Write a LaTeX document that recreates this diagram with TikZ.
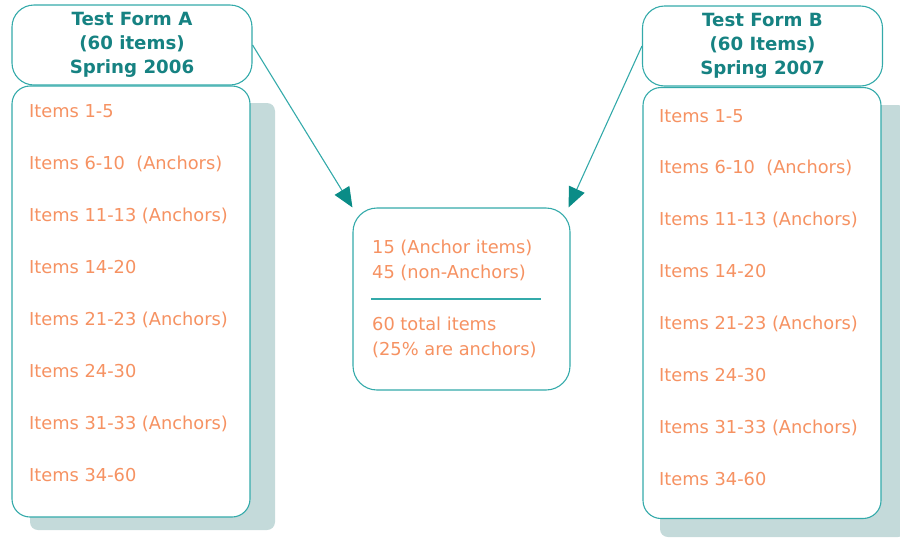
\documentclass[tikz,border=0pt]{standalone}
\usepackage{fontspec}
\setmainfont{DejaVu Sans}
\usetikzlibrary{arrows.meta}

\definecolor{frame}{RGB}{52,170,170}
\definecolor{tipfill}{RGB}{10,140,135}
\definecolor{headtext}{RGB}{22,130,130}
\definecolor{itemtext}{RGB}{246,146,98}
\definecolor{shade}{RGB}{196,218,218}

\tikzset{
  boxline/.style={draw=frame, line width=1.1pt, fill=white, inner sep=0pt},
  headbox/.style={boxline, rounded corners=22pt, minimum width=240pt, minimum height=80pt,
    align=center, text=headtext, font=\fontsize{18.2}{24}\selectfont\bfseries},
  bodybox/.style={boxline, rounded corners=18pt, minimum width=238pt, minimum height=431pt},
  sumbox/.style={boxline, rounded corners=24pt, minimum width=217pt, minimum height=182pt},
  itemlabel/.style={anchor=base west, inner sep=0pt, text=itemtext, font=\fontsize{17.8}{20}\selectfont},
  shadefill/.style={fill=shade, rounded corners=8pt},
  link/.style={draw=frame, line width=1.1pt,
    -{Triangle[length=20pt,width=17pt,color=tipfill,fill=tipfill]}},
}

\begin{document}
\begin{tikzpicture}[x=1pt, y=-1pt]
\useasboundingbox (0,0) rectangle (900,539);

% drop shadows behind the two item lists
\fill[shadefill] (30,103) rectangle (275,530);
\fill[shadefill] (660,105) rectangle (906,537);

% ---- Form A ----
\node[bodybox] (bodyA) at (131,301.5) {};
\node[headbox] (headA) at (132,45) {Test Form A\\(60 items)\\Spring 2006};

\foreach \t [count=\i from 0] in {Items 1-5, Items 6-10\ \ (Anchors), Items 11-13 (Anchors), Items 14-20,
    Items 21-23 (Anchors), Items 24-30, Items 31-33 (Anchors), Items 34-60}
  \node[itemlabel] (a\i) at (29,117+52.1*\i) {\t};

% ---- Form B ----
\node[bodybox] (bodyB) at (762,303) {};
\node[headbox] (headB) at (762.5,46) {Test Form B\\(60 Items)\\Spring 2007};

\foreach \t [count=\i from 0] in {Items 1-5, Items 6-10\ \ (Anchors), Items 11-13 (Anchors), Items 14-20,
    Items 21-23 (Anchors), Items 24-30, Items 31-33 (Anchors), Items 34-60}
  \node[itemlabel] (b\i) at (659,122+51.9*\i) {\t};

% ---- summary ----
\node[sumbox] (cbox) at (461.5,299) {};
\node[itemlabel] (c1) at (372,253) {15 (Anchor items)};
\node[itemlabel] (c2) at (372,278) {45 (non-Anchors)};
\draw[draw=frame, line width=1.1pt] ([xshift=19pt]cbox.west) -- ([xshift=-30pt]cbox.east);
\node[itemlabel] (c3) at (372,330) {60 total items};
\node[itemlabel] (c4) at (372,355) {(25\% are anchors)};

% ---- links ----
\draw[link] (headA.east) -- (cbox.north west);
\draw[link] (headB.west) -- ([xshift=-2pt]cbox.north east);
\end{tikzpicture}
\end{document}
